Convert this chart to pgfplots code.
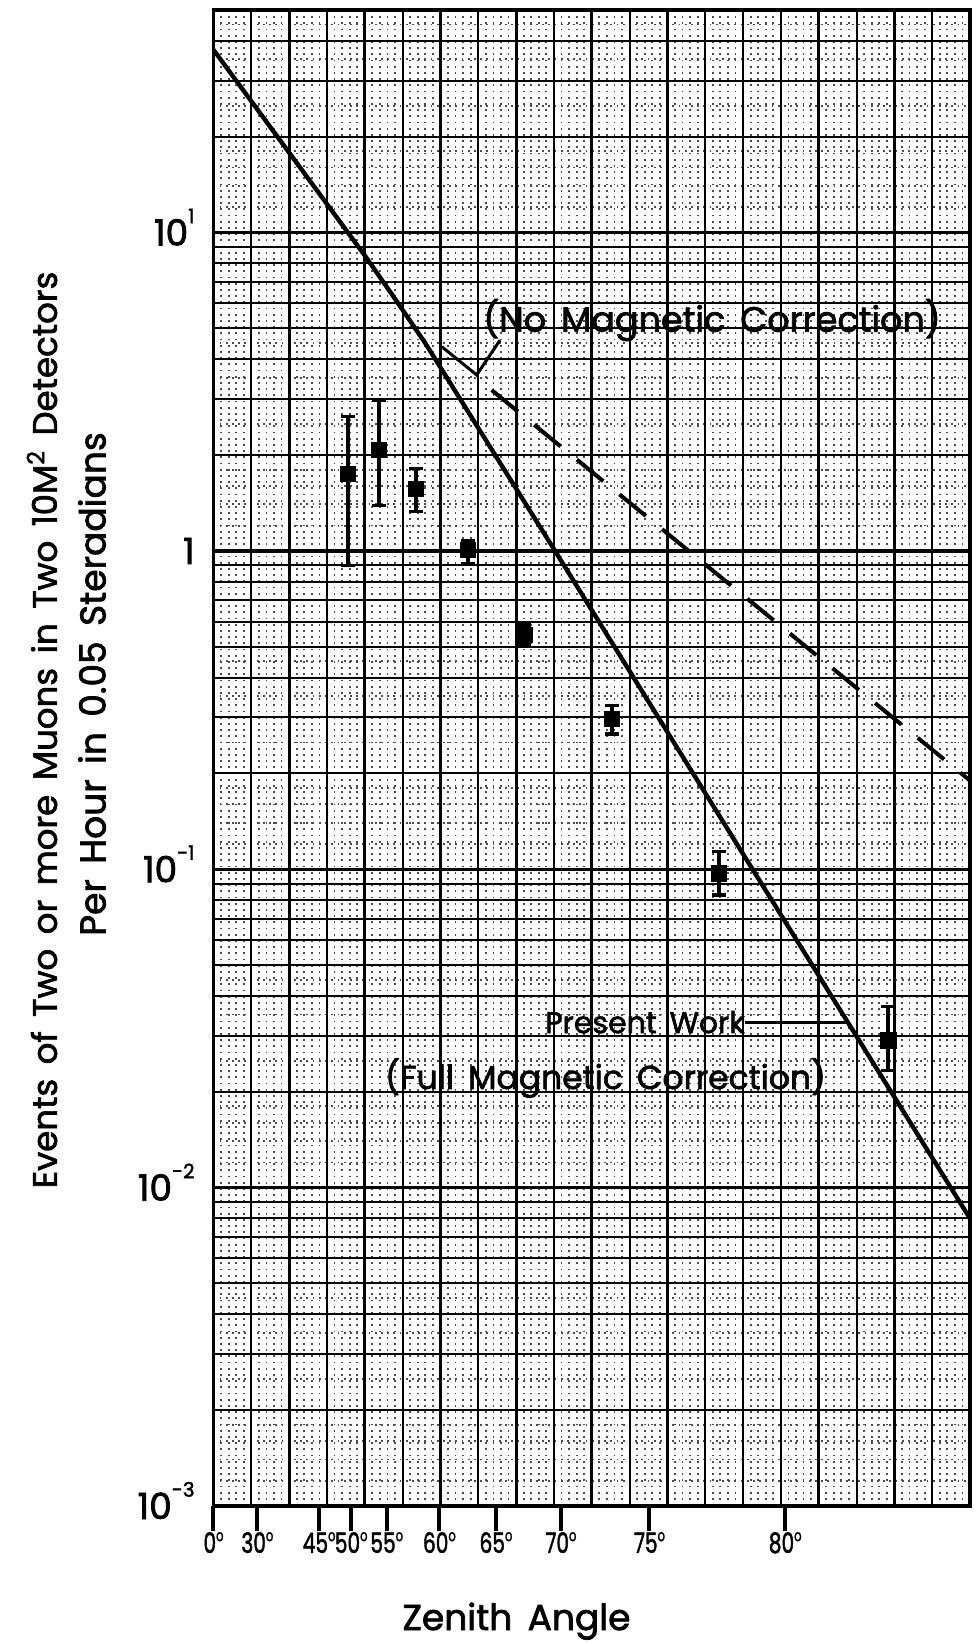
\documentclass[border=0pt]{standalone}
\usepackage{fontspec}
\setmainfont{Poppins}[FakeBold=2,WordSpace=1.6]
\usepackage{pgfplots}
\pgfplotsset{compat=1.18}
\usepackage{pgfplotstable}

% measured points, x = position on the paper (log10 sec theta scale, 0..1)
\pgfplotstableread{
u y ep em
0.178 1.75 0.89 0.85
0.219 2.08 0.88 0.69
0.268 1.57 0.25 0.24
0.336 1.01 0.07 0.10
0.411 0.544 0.041 0.038
0.527 0.296 0.031 0.030
0.668 0.097 0.017 0.014
0.892 0.029 0.008 0.0057
}\datapoints

% full magnetic correction (present work)
\pgfplotstableread{
u y
0.000 37.5
0.200 8.47
0.240 6.19
0.280 4.49
0.4492 1.02
0.707 0.105
1.000 0.0080
}\fullcorr

% no magnetic correction
\pgfplotstableread{
u y
0.3677 3.20
1.000 0.19
}\nocorr

\newcommand\sq[1]{\raisebox{0.62em}{\fontsize{10pt}{10pt}\selectfont #1}}
\newcommand\dg{\raisebox{0.42em}{\fontsize{8pt}{8pt}\selectfont o}}
\newcommand\tk[1]{\scalebox{0.72}[1]{#1}}

\begin{document}
\begin{tikzpicture}
% fine dotted texture of the graph paper
\begin{axis}[at={(0pt,0pt)}, anchor=south west, width=378.25pt, height=748pt, scale only axis,
  xmin=0, xmax=1, ymin=0.001, ymax=50, ymode=log,
  axis line style={draw=none},
  xtick={0,0.01,...,1},
  ytick={0.0012,0.0014,0.0016,0.0018,0.0025,0.0035,0.0045,
         0.012,0.014,0.016,0.018,0.025,0.035,0.045,
         0.12,0.14,0.16,0.18,0.25,0.35,0.45,
         1.2,1.4,1.6,1.8,2.5,3.5,4.5,
         12,14,16,18,25,35,45},
  minor ytick={},
  xticklabels={}, yticklabels={},
  major tick length=0pt, minor tick length=0pt,
  xmajorgrids, ymajorgrids,
  major grid style={black!70, line width=0.9pt, dash pattern=on 0.9pt off 2.2pt}]
\addplot[draw=none] coordinates {(0.5,1)};
\end{axis}

\begin{axis}[at={(0pt,0pt)}, anchor=south west, width=378.25pt, height=748pt, scale only axis,
  xmin=0, xmax=1, ymin=0.001, ymax=50, ymode=log,
  axis line style={line width=1.8pt},
  xtick pos=left, ytick pos=left,
  xtick={0,0.058,0.1396,0.182,0.229,0.2986,0.3734,0.4592,0.5763,0.7557},
  xticklabels={\tk{0\dg},\tk{30\dg},\tk{45\dg},\tk{50\dg},\tk{55\dg},\tk{60\dg},\tk{65\dg},\tk{70\dg},\tk{75\dg},\tk{80\dg}},
  minor xtick={0,0.05,...,1},
  ytick={0.001,0.01,0.1,1,10},
  yticklabels={10\sq{-3},10\sq{-2},10\sq{-1},1,10\sq{1}},
  minor ytick={0.002,0.003,0.004,0.005,0.006,0.007,0.008,0.009,
               0.02,0.03,0.04,0.05,0.06,0.07,0.08,0.09,
               0.2,0.3,0.4,0.5,0.6,0.7,0.8,0.9,
               2,3,4,5,6,7,8,9,20,30,40},
  tick align=outside, major tick length=12.5pt, minor tick length=0pt,
  xtick style={line width=2pt, black},
  ytick style={draw=none},
  xminorgrids, yminorgrids, ymajorgrids,
  minor grid style={line width=1pt, black},
  major grid style={line width=1.7pt, black},
  extra x ticks={0.1,0.2,0.3,0.4,0.5,0.6,0.7,0.8,0.9},
  extra x tick labels={},
  extra x tick style={xmajorgrids=true, major tick length=0pt, xtick style={draw=none},
     major grid style={line width=1.4pt, black}},
  xticklabel style={font=\fontsize{14pt}{14pt}\selectfont, anchor=base, inner sep=0pt, yshift=-11pt},
  yticklabel style={font=\fontsize{18pt}{18pt}\selectfont, anchor=base east, inner sep=0pt, xshift=3.25pt, yshift=-6.5pt},
]
\addplot[line width=2.2pt, black, line join=round] table[x=u, y=y] {\fullcorr};
\addplot[line width=2pt, black, dash pattern=on 17pt off 10.5pt] table[x=u, y=y] {\nocorr};
\addplot[black, only marks, mark=square*, mark size=3.8pt,
  error bars/.cd, y dir=both, y explicit,
  error bar style={line width=2pt},
  error mark options={rotate=90, mark size=3.5pt, line width=1.6pt}]
  table[x=u, y=y, y error plus=ep, y error minus=em] {\datapoints};

\draw[line width=1.5pt] (axis cs:0.3017,4.38) -- (axis cs:0.3479,3.57) -- (axis cs:0.3787,4.59);
\draw[line width=1.5pt] (axis cs:0.703,0.0331) -- (axis cs:0.841,0.0331);

\node[font=\fontsize{17.5pt}{17.5pt}\selectfont] at (axis cs:0.659,5.31) {(No Magnetic Correction)};
\node[font=\fontsize{15pt}{15pt}\selectfont] at (axis cs:0.5704,0.0331) {Present Work};
\node[font=\fontsize{16.5pt}{16.5pt}\selectfont] at (axis cs:0.5182,0.0221) {(Full Magnetic Correction)};
\end{axis}

\node[rotate=90, font=\fontsize{17pt}{17pt}\selectfont] at (-85.75pt,388pt)
  {Events of Two or more Muons in Two 10M\textsuperscript{2} Detectors};
\node[rotate=90, font=\fontsize{18pt}{18pt}\selectfont] at (-60.75pt,411pt)
  {Per Hour in 0.05 Steradians};
\node[anchor=base, font=\fontsize{18pt}{18pt}\selectfont] at (151.5pt,-62pt) {Zenith Angle};

\pgfresetboundingbox
\path[use as bounding box] (-106.75pt,-69pt) rectangle (381.25pt,753pt);
\end{tikzpicture}
\end{document}
